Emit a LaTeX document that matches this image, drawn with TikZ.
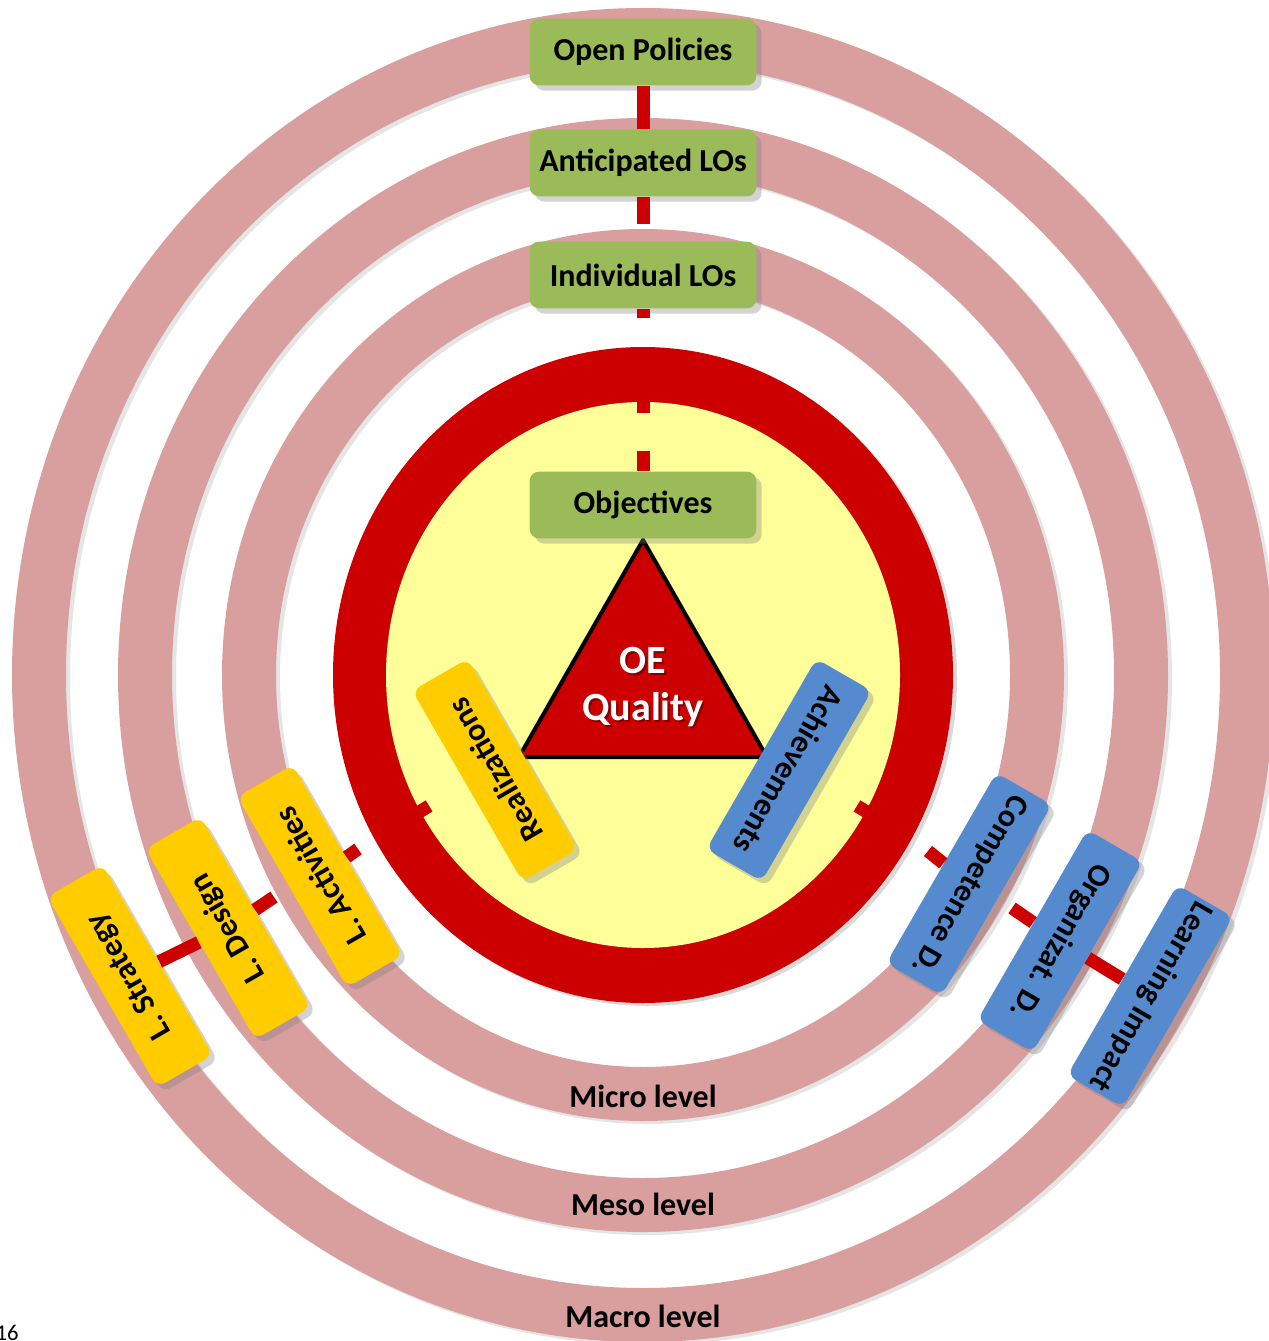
\documentclass[tikz,border=0pt]{standalone}
\usepackage{fontspec}
\setmainfont{Carlito}
\usetikzlibrary{shadows}

\definecolor{ringpink}{RGB}{217,158,158}
\definecolor{oered}{RGB}{204,0,0}
\definecolor{oeyellow}{RGB}{255,255,153}
\definecolor{boxgreen}{RGB}{155,187,89}
\definecolor{boxyellow}{RGB}{255,204,0}
\definecolor{boxblue}{RGB}{85,139,206}

\tikzset{every picture/.style={line width=0.75pt}}
\tikzset{
  levelbox/.style={rounded corners=7pt, minimum width=165pt, minimum height=48pt, inner sep=2pt,
    font=\bfseries\fontsize{24}{28}\selectfont, text=black,
    drop shadow={opacity=0.35, shadow xshift=4pt, shadow yshift=-4pt}},
  greenbox/.style={levelbox, fill=boxgreen, minimum width=170pt, minimum height=50pt},
  yellowbox/.style={levelbox, fill=boxyellow, rotate=120},
  bluebox/.style={levelbox, fill=boxblue, rotate=-120},
  spoke/.style={draw=oered, line width=9.75pt},
  ring/.style={draw=ringpink, line width=40.5pt},
  ringshadow/.style={draw=black, draw opacity=0.1, line width=40.5pt},
  levellabel/.style={font=\bfseries\fontsize{24}{28}\selectfont, inner sep=0pt, anchor=base},
}

\begin{document}
\begin{tikzpicture}[x=0.75pt,y=0.75pt,yscale=-1,xscale=1]
    \useasboundingbox (0,0) rectangle (1268,1341);

    %Shape: Ring [macro]
    \draw [ringshadow] (647,678) ellipse [x radius=604, y radius=640];
    \draw [ring] (643,675) ellipse [x radius=604, y radius=640];
    %Shape: Ring [meso]
    \draw [ringshadow] (647,678) ellipse [x radius=498, y radius=530];
    \draw [ring] (643,675) ellipse [x radius=498, y radius=530];
    %Shape: Ring [micro]
    \draw [ringshadow] (647,678) ellipse [x radius=394, y radius=419];
    \draw [ring] (643,675) ellipse [x radius=394, y radius=419];

    %Shape: Circle [red ring]
    \fill [black, opacity=0.15] (647,678) ellipse [x radius=310, y radius=328];
    \fill [oered] (643,675) ellipse [x radius=310, y radius=328];
    %Shape: Circle [yellow disc]
    \fill [oeyellow] (643,675) ellipse [x radius=257, y radius=273];
    %Shape: notches of the red ring
    \begin{scope}[shift={(643,675)}, yscale=1.06]
      \foreach \a in {270,150,30} \draw [spoke] (\a:266) -- (\a:247);
    \end{scope}

    %Shape: Triangle
    \draw [line width=3pt, fill=oered, line join=miter] (643,540) -- (767,757) -- (519,757) -- cycle;
    % Text Node
    \node [font=\bfseries\fontsize{30}{35}\selectfont, text=black, text opacity=0.35, align=center] (oe-shadow) at (645,689) {OE\\Quality};
    \node [font=\bfseries\fontsize{30}{35}\selectfont, text=white, align=center] (oe) at (643,687) {OE\\Quality};

    % Boxes
    \node [greenbox] (op) at (643,52) {Open Policies};
    \node [greenbox] (al) at (643,163) {Anticipated LOs};
    \node [greenbox] (il) at (643,275) {Individual LOs};
    \node [greenbox] (obj) at (643,505) {Objectives};
    \node [yellowbox] (ls) at (130,976) {L. Strategy};
    \node [yellowbox] (ld) at (228,928) {L. Design};
    \node [yellowbox] (la) at (320,876) {L. Activities};
    \node [yellowbox] (re) at (495,770) {Realizations};
    \node [bluebox] (ac) at (789,770) {Achievements};
    \node [bluebox] (cd) at (969,884) {Competence D.};
    \node [bluebox] (od) at (1060,941) {Organizat. D.};
    \node [bluebox] (li) at (1150,996) {Learning Impact};

    % Spokes
    \coordinate (al-end) at (643,224);
    \coordinate (il-end) at (643,318);
    \coordinate (obj-end) at (643,451);
    \coordinate (ld-end) at (274,897);
    \coordinate (la-end) at (358,849);
    \coordinate (od-end) at (1012,908);
    \coordinate (cd-end) at (928,851);
    \draw [spoke] (op) -- (al);
    \draw [spoke] (al) -- (al-end);
    \draw [spoke] (il) -- (il-end);
    \draw [spoke] (obj-end) -- (obj);
    \draw [spoke] (ls) -- (ld);
    \draw [spoke] (ld) -- (ld-end);
    \draw [spoke] (la) -- (la-end);
    \draw [spoke] (li) -- (od);
    \draw [spoke] (od) -- (od-end);
    \draw [spoke] (cd) -- (cd-end);

    % Text Node
    \node [levellabel] (micro) at (643,1107) {Micro level};
    \node [levellabel] (meso) at (643,1215) {Meso level};
    \node [levellabel] (macro) at (643,1327) {Macro level};
    % Text Node
    \node [font=\fontsize{17}{20}\selectfont, inner sep=0pt, anchor=base east] (page) at (19,1340) {16};
\end{tikzpicture}
\end{document}
